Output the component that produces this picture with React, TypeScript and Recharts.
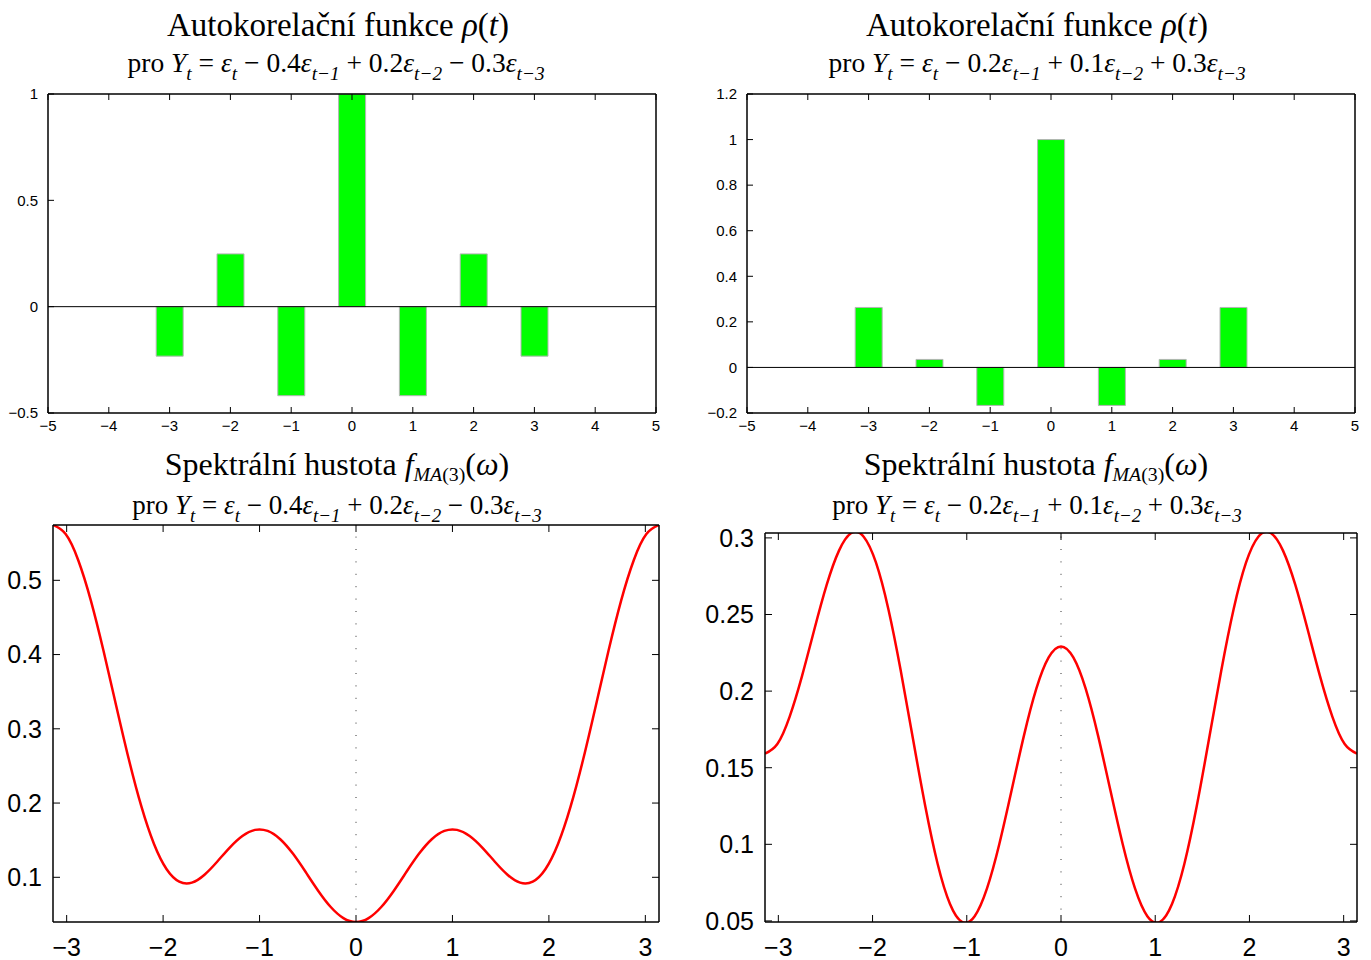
import React from 'react';
import { BarChart, Bar, LineChart, Line, XAxis, YAxis, ReferenceLine } from 'recharts';

// autocorrelation values
const lags = [-3, -2, -1, 0, 1, 2, 3];
const acfA = [-0.2326, 0.2481, -0.4186, 1, -0.4186, 0.2481, -0.2326];
const acfB = [0.2632, 0.0351, -0.1667, 1, -0.1667, 0.0351, 0.2632];
const lagTicks = [-5, -4, -3, -2, -1, 0, 1, 2, 3, 4, 5];
const acfTicksA = [-0.5, 0, 0.5, 1];
const acfTicksB = [-0.2, 0, 0.2, 0.4, 0.6, 0.8, 1, 1.2];

// spectral density curves
const omega = [
  -3.1416, -3.0107, -2.8798, -2.7489, -2.618, -2.4871, -2.3562, -2.2253, -2.0944, -1.9635,
  -1.8326, -1.7017, -1.5708, -1.4399, -1.309, -1.1781, -1.0472, -0.9163, -0.7854, -0.6545,
  -0.5236, -0.3927, -0.2618, -0.1309, 0, 0.1309, 0.2618, 0.3927, 0.5236, 0.6545,
  0.7854, 0.9163, 1.0472, 1.1781, 1.309, 1.4399, 1.5708, 1.7017, 1.8326, 1.9635,
  2.0944, 2.2253, 2.3562, 2.4871, 2.618, 2.7489, 2.8798, 3.0107, 3.1416,
];
const specA = [
  0.5745, 0.5623, 0.5271, 0.4727, 0.4051, 0.3315, 0.2593, 0.1954, 0.1448, 0.1108,
  0.0941, 0.0928, 0.1035, 0.121, 0.1401, 0.1557, 0.1639, 0.1625, 0.1513, 0.1319,
  0.1074, 0.082, 0.06, 0.0451, 0.0398, 0.0451, 0.06, 0.082, 0.1074, 0.1319,
  0.1513, 0.1625, 0.1639, 0.1557, 0.1401, 0.121, 0.1035, 0.0928, 0.0941, 0.1108,
  0.1448, 0.1954, 0.2593, 0.3315, 0.4051, 0.4727, 0.5271, 0.5623, 0.5745,
];
const specB = [
  0.1592, 0.1655, 0.1834, 0.2098, 0.2402, 0.2693, 0.2917, 0.3032, 0.3008, 0.2838,
  0.2536, 0.2136, 0.1687, 0.1247, 0.0872, 0.0611, 0.0493, 0.0531, 0.0712, 0.1002,
  0.1354, 0.1711, 0.2016, 0.222, 0.2292, 0.222, 0.2016, 0.1711, 0.1354, 0.1002,
  0.0712, 0.0531, 0.0493, 0.0611, 0.0872, 0.1247, 0.1687, 0.2136, 0.2536, 0.2838,
  0.3008, 0.3032, 0.2917, 0.2693, 0.2402, 0.2098, 0.1834, 0.1655, 0.1592,
];
const omegaTicks = [-3, -2, -1, 0, 1, 2, 3];
const specTicksA = [0.1, 0.2, 0.3, 0.4, 0.5];
const specTicksB = [0.05, 0.1, 0.15, 0.2, 0.25, 0.3];

const SANS = '"Liberation Sans", Arial, Helvetica, sans-serif';
const SERIF = '"Liberation Serif", "Times New Roman", serif';
const fmt = (v: number) => String(v).replace('-', '\u2212');
const axisLine = { stroke: '#000', strokeWidth: 1.5 };
const tickLine = { stroke: '#000', strokeWidth: 1 };
const noLabel = () => <g />;

// top and right axes only draw the box edge + inward ticks (need 1px size or recharts skips them)
function AcfPanel({ values, ticks, domain, left, yWidth, right }: any) {
  const data = lags.map((lag, i) => ({ lag, rho: values[i] }));
  const tick = { fill: '#000', fontSize: 15, fontFamily: SANS };
  return (
    <div style={{ position: 'absolute', left, top: 80 }}>
      <BarChart width={680} height={370} data={data} margin={{ top: 13, right: right - 1, bottom: 7, left: 0 }}>
        <XAxis xAxisId="b" type="number" dataKey="lag" domain={[-5, 5]} ticks={lagTicks} interval={0}
          tick={tick} tickFormatter={fmt} tickSize={-6} tickMargin={13} height={30}
          axisLine={axisLine} tickLine={tickLine} />
        <XAxis xAxisId="t" orientation="top" type="number" dataKey="lag" domain={[-5, 5]} ticks={lagTicks}
          interval={0} tick={noLabel} tickSize={-6} height={1} axisLine={axisLine} tickLine={tickLine} />
        <YAxis yAxisId="l" type="number" domain={domain} ticks={ticks} interval={0} tick={tick}
          tickFormatter={fmt} tickSize={-6} tickMargin={16} width={yWidth}
          axisLine={axisLine} tickLine={tickLine} />
        <YAxis yAxisId="r" orientation="right" type="number" domain={domain} ticks={ticks} interval={0}
          tick={noLabel} tickSize={-6} width={1} axisLine={axisLine} tickLine={tickLine} />
        <Bar xAxisId="b" yAxisId="l" dataKey="rho" barSize={27} fill="#00ff00" stroke="#b4b4b4"
          strokeWidth={1} isAnimationActive={false} />
        <ReferenceLine xAxisId="b" yAxisId="l" y={0} stroke="#000" strokeWidth={1} />
      </BarChart>
    </div>
  );
}

function SpecPanel({ values, ticks, domain, left, top, yWidth, right }: any) {
  const data = omega.map((w, i) => ({ w, f: values[i] }));
  const tick = { fill: '#000', fontSize: 25, fontFamily: SANS };
  return (
    <div style={{ position: 'absolute', left, top: 515 }}>
      <LineChart width={680} height={445} data={data} margin={{ top: top - 1, right: right - 1, bottom: 0, left: 0 }}>
        <XAxis xAxisId="b" type="number" dataKey="w" domain={[-3.1416, 3.1416]} ticks={omegaTicks}
          interval={0} tick={tick} tickFormatter={fmt} tickSize={-7} tickMargin={23} height={38}
          axisLine={axisLine} tickLine={tickLine} allowDataOverflow />
        <XAxis xAxisId="t" orientation="top" type="number" dataKey="w" domain={[-3.1416, 3.1416]}
          ticks={omegaTicks} interval={0} tick={noLabel} tickSize={-7} height={1}
          axisLine={axisLine} tickLine={tickLine} allowDataOverflow />
        <YAxis yAxisId="l" type="number" domain={domain} ticks={ticks} interval={0} tick={tick}
          tickFormatter={fmt} tickSize={-7} tickMargin={18} width={yWidth}
          axisLine={axisLine} tickLine={tickLine} allowDataOverflow />
        <YAxis yAxisId="r" orientation="right" type="number" domain={domain} ticks={ticks} interval={0}
          tick={noLabel} tickSize={-7} width={1} axisLine={axisLine} tickLine={tickLine} allowDataOverflow />
        <ReferenceLine xAxisId="b" yAxisId="l" x={0} stroke="#333" strokeWidth={1} strokeDasharray="1 11.4" />
        <Line xAxisId="b" yAxisId="l" type="natural" dataKey="f" stroke="#ff0000" strokeWidth={2.5}
          dot={false} isAnimationActive={false} />
      </LineChart>
    </div>
  );
}

// a line of "math" text: segments with italic / subscript flags
function MathText({ x, y, size, segs, subShift = 0.28, subScale = 0.7 }: any) {
  let shift = 0;
  const sub = Math.round(size * subShift);
  return (
    <text x={x} y={y} fontSize={size} fontFamily={SERIF} textAnchor="middle" style={{ whiteSpace: 'pre' }}>
      {segs.map((s: any, i: number) => {
        const target = s.sub ? sub : 0;
        const dy = target - shift;
        shift = target;
        return (
          <tspan key={i} dy={dy} fontStyle={s.i ? 'italic' : 'normal'}
            fontSize={s.sub ? size * subScale : size}>{s.t}</tspan>
        );
      })}
    </text>
  );
}

const acfTitle = [{ t: 'Autokorelační funkce ' }, { t: 'ρ', i: true }, { t: '(' }, { t: 't', i: true }, { t: ')' }];
const specTitle = [
  { t: 'Spektrální hustota ' }, { t: 'f', i: true }, { t: 'MA', i: true, sub: true },
  { t: '(3)', sub: true }, { t: '(' }, { t: 'ω', i: true }, { t: ')' },
];
const eqA = [
  { t: 'pro ' }, { t: 'Y', i: true }, { t: 't', i: true, sub: true }, { t: ' = ' }, { t: 'ε', i: true },
  { t: 't', i: true, sub: true }, { t: ' − 0.4' }, { t: 'ε', i: true }, { t: 't−1', i: true, sub: true },
  { t: ' + 0.2' }, { t: 'ε', i: true }, { t: 't−2', i: true, sub: true }, { t: ' − 0.3' },
  { t: 'ε', i: true }, { t: 't−3', i: true, sub: true },
];
const eqB = [
  { t: 'pro ' }, { t: 'Y', i: true }, { t: 't', i: true, sub: true }, { t: ' = ' }, { t: 'ε', i: true },
  { t: 't', i: true, sub: true }, { t: ' − 0.2' }, { t: 'ε', i: true }, { t: 't−1', i: true, sub: true },
  { t: ' + 0.1' }, { t: 'ε', i: true }, { t: 't−2', i: true, sub: true }, { t: ' + 0.3' },
  { t: 'ε', i: true }, { t: 't−3', i: true, sub: true },
];

export default function App() {
  return (
    <div style={{ position: 'absolute', left: 0, top: 0, width: 1371, height: 960, background: '#fff' }}>
      <AcfPanel values={acfA} ticks={acfTicksA} domain={[-0.5, 1]} left={0} yWidth={48} right={24} />
      <AcfPanel values={acfB} ticks={acfTicksB} domain={[-0.2, 1.2]} left={690} yWidth={57} right={15} />
      <SpecPanel values={specA} ticks={specTicksA} domain={[0.0398, 0.5745]} left={0} top={10} yWidth={53} right={21} />
      <SpecPanel values={specB} ticks={specTicksB} domain={[0.0493, 0.3032]} left={690} top={18} yWidth={75} right={13} />
      <svg width={1371} height={960} style={{ position: 'absolute', left: 0, top: 0, pointerEvents: 'none' }}>
        <MathText x={338} y={36} size={33} segs={acfTitle} />
        <MathText x={336} y={72} size={27.5} segs={eqA} />
        <MathText x={1037} y={36} size={33} segs={acfTitle} />
        <MathText x={1037} y={72} size={27.5} segs={eqB} />
        <MathText x={337} y={475} size={32} segs={specTitle} subShift={0.18} subScale={0.62} />
        <MathText x={337} y={514} size={27} segs={eqA} />
        <MathText x={1036} y={475} size={32} segs={specTitle} subShift={0.18} subScale={0.62} />
        <MathText x={1037} y={514} size={27} segs={eqB} />
      </svg>
    </div>
  );
}
